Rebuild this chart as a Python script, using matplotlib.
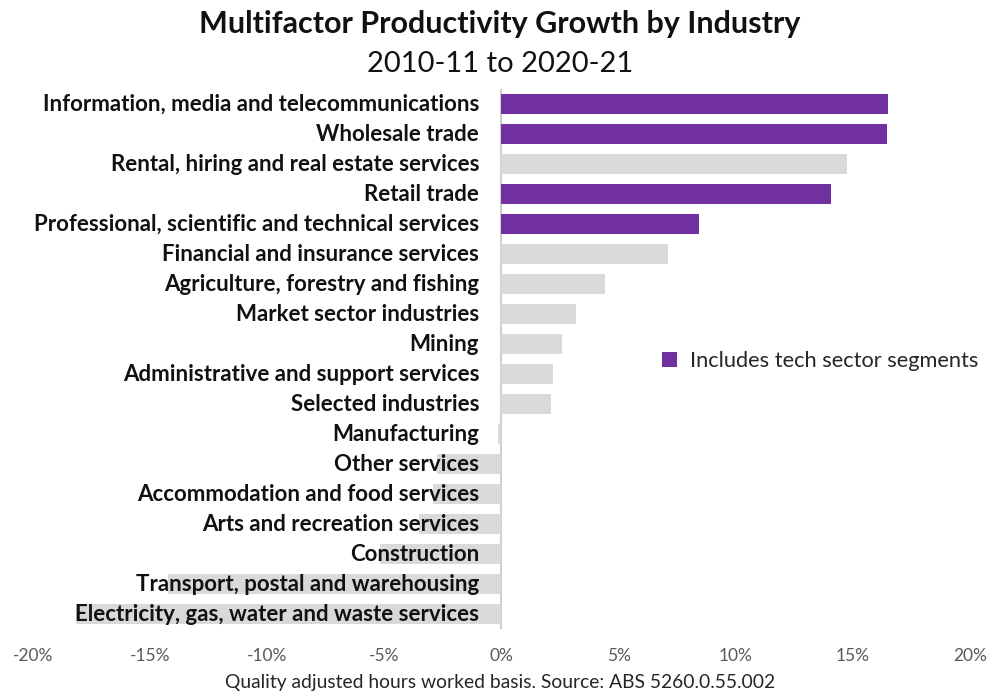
import matplotlib.pyplot as plt
from matplotlib.patches import Patch
from matplotlib.ticker import FuncFormatter

plt.rcParams['font.family'] = ['Lato', 'DejaVu Sans']

industries = [
    'Information, media and telecommunications',
    'Wholesale trade',
    'Rental, hiring and real estate services',
    'Retail trade',
    'Professional, scientific and technical services',
    'Financial and insurance services',
    'Agriculture, forestry and fishing',
    'Market sector industries',
    'Mining',
    'Administrative and support services',
    'Selected industries',
    'Manufacturing',
    'Other services',
    'Accommodation and food services',
    'Arts and recreation services',
    'Construction',
    'Transport, postal and warehousing',
    'Electricity, gas, water and waste services',
]
growth = [16.48, 16.45, 14.74, 14.07, 8.44, 7.09, 4.44, 3.19, 2.6, 2.18, 2.1,
          -0.14, -2.75, -2.92, -3.5, -5.2, -14.23, -18.16]
tech = [True, True, False, True, True, False, False, False, False, False, False,
        False, False, False, False, False, False, False]

purple = '#7030A0'
grey = '#D9D9D9'

fig = plt.figure(figsize=(9.9, 6.92), dpi=100)
ax = fig.add_axes([0.0333, 0.091, 0.9465, 0.78])

ypos = list(range(len(industries)))
colors = [purple if t else grey for t in tech]
ax.barh(ypos, growth, height=0.66, color=colors, zorder=1)
ax.set_ylim(len(industries) - 0.5, -0.5)
ax.set_xlim(-20, 20)

# zero axis line
ax.axvline(0, color='#D0D0D0', lw=1.5, zorder=0)

# category labels drawn over the bars
for y, name in zip(ypos, industries):
    ax.text(-0.95, y, name, ha='right', va='center', fontsize=16,
            fontweight='bold', color='#111111', zorder=3)

ax.set_yticks([])
ax.set_xticks(range(-20, 21, 5))
ax.xaxis.set_major_formatter(FuncFormatter(lambda v, p: f'{v:.0f}%'))
ax.tick_params(axis='x', length=0, labelsize=12.5, labelcolor='#595959', pad=14)
for s in ax.spines.values():
    s.set_visible(False)

ax.legend(handles=[Patch(facecolor=purple, label='Includes tech sector segments')],
          loc='center left', bbox_to_anchor=(0.65, 0.497), frameon=False,
          fontsize=15.7, handlelength=0.7, handleheight=0.7, handletextpad=0.6,
          labelcolor='#262626')

fig.text(0.505, 0.966, 'Multifactor Productivity Growth by Industry', ha='center',
         va='center', fontsize=22, fontweight='bold', color='#111111')
fig.text(0.505, 0.907, '2010-11 to 2020-21', ha='center', va='center',
         fontsize=21, color='#111111')
fig.text(0.505, 0.014, 'Quality adjusted hours worked basis. Source: ABS 5260.0.55.002',
         ha='center', va='center', fontsize=13.9, color='#262626')

fig.savefig('out.png', dpi=100, facecolor='white')
